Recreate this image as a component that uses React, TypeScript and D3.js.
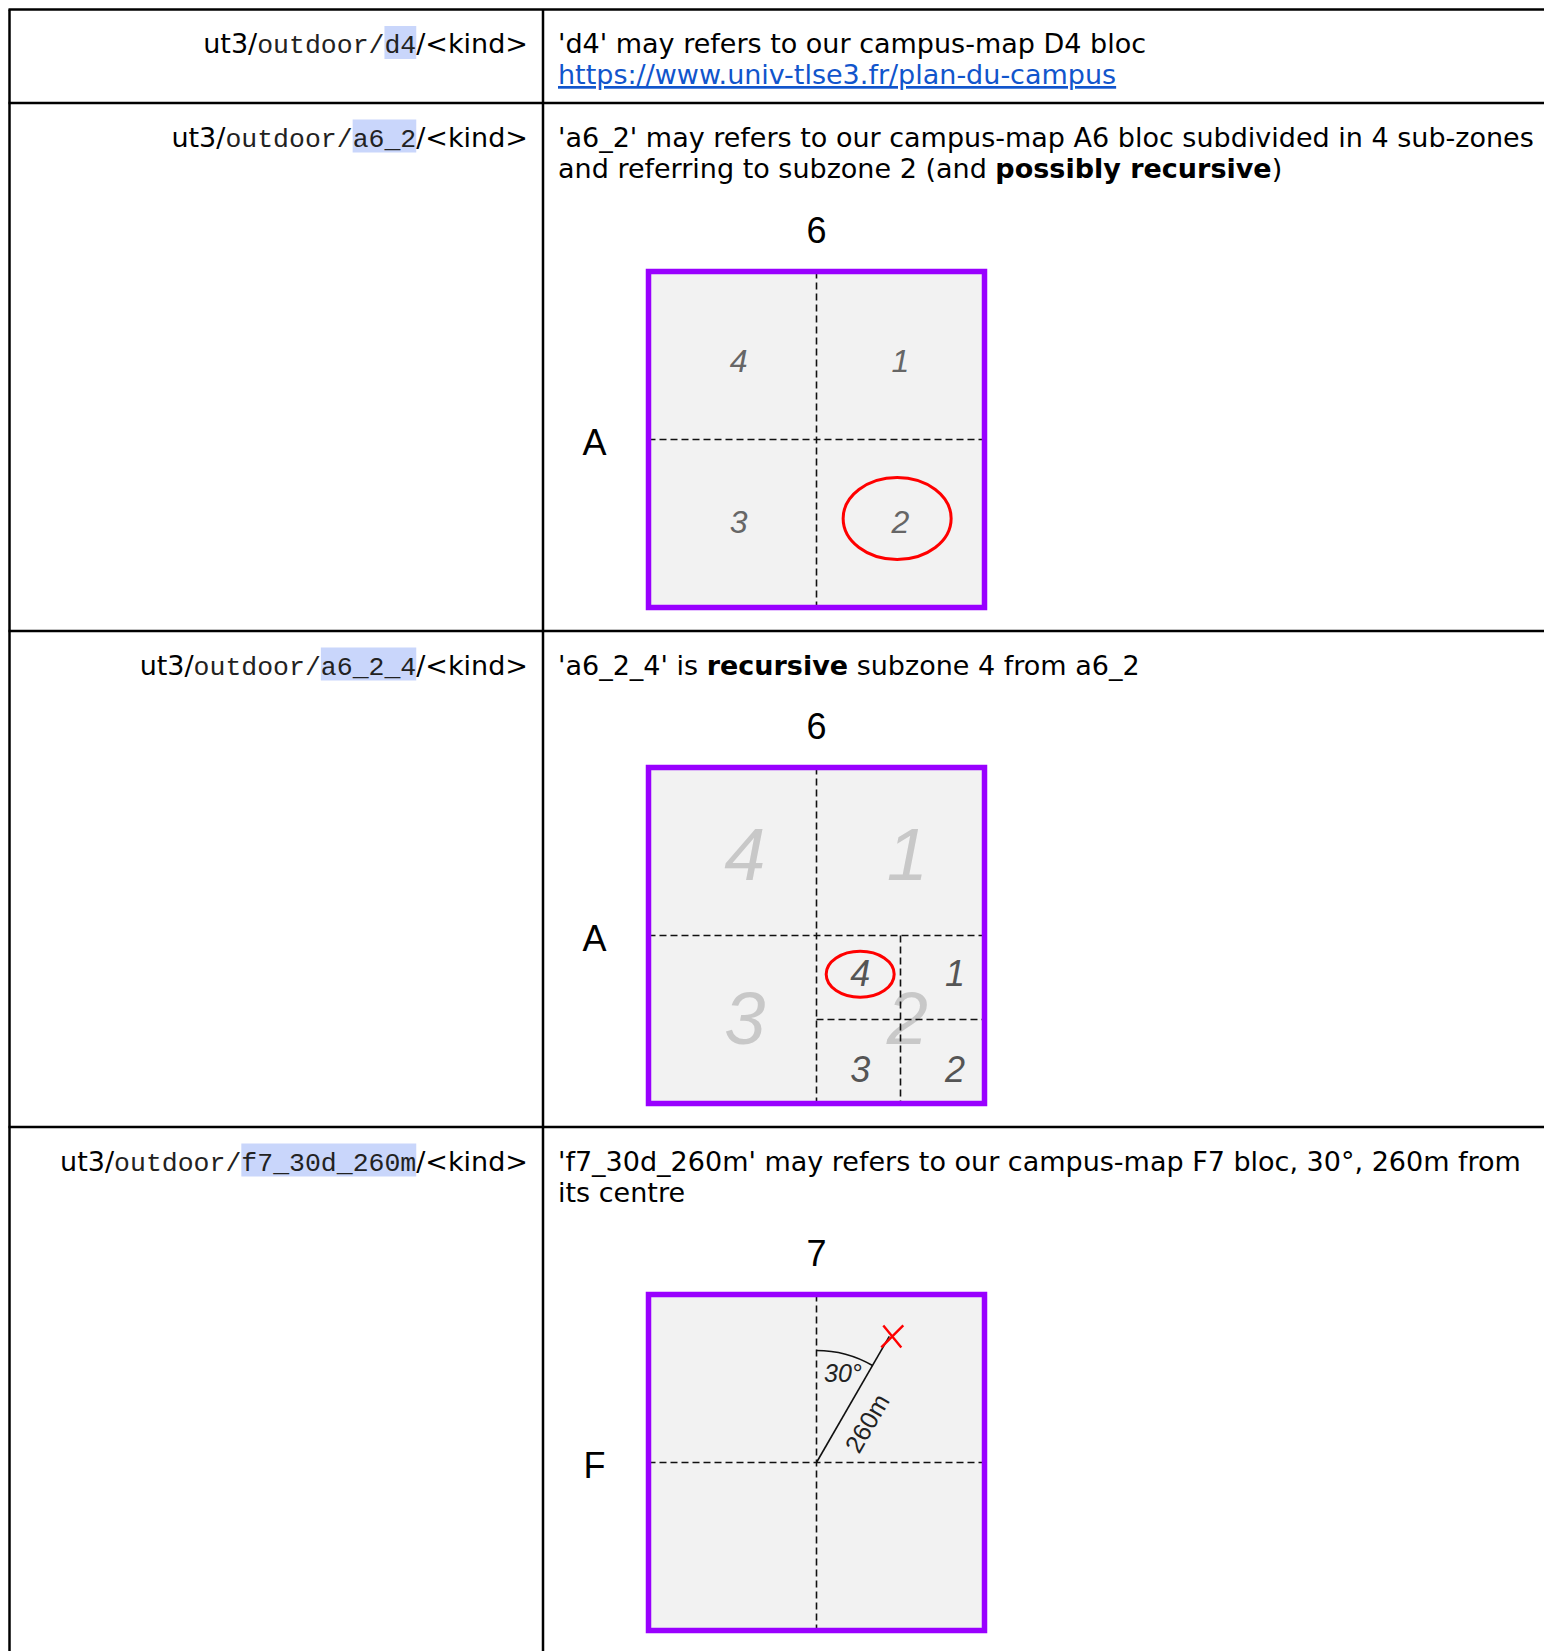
import React, { useEffect, useRef } from "react";
import * as d3 from "d3";

// table content
const pathKeys = ["d4", "a6_2", "a6_2_4", "f7_30d_260m"];

type Run = { t: string; bold?: boolean; link?: boolean };
const descriptionLines: Run[][][] = [
  [
    [{ t: "'d4' may refers to our campus-map D4 bloc" }],
    [{ t: "https://www.univ-tlse3.fr/plan-du-campus", link: true }],
  ],
  [
    [{ t: "'a6_2' may refers to our campus-map A6 bloc subdivided in 4 sub-zones" }],
    [{ t: "and referring to subzone 2 (and " }, { t: "possibly recursive", bold: true }, { t: ")" }],
  ],
  [[{ t: "'a6_2_4' is " }, { t: "recursive", bold: true }, { t: " subzone 4 from a6_2" }]],
  [
    [{ t: "'f7_30d_260m' may refers to our campus-map F7 bloc, 30°, 260m from" }],
    [{ t: "its centre" }],
  ],
];

// block diagrams
const colLabels = ["6", "6", "7"];
const rowLabels = ["A", "A", "F"];
const quadrantDigits = ["4", "1", "3", "2"]; // TL, TR, BL, BR
const selectedZone = "2";
const selectedSubZone = "4";
const bearingDeg = 30;
const distanceM = 260;
const blockMeters = 600;

const W = 1544;
const H = 1651;
const SANS = "'DejaVu Sans', Verdana, sans-serif";
const MONO = "'Liberation Mono', 'DejaVu Sans Mono', monospace";
const ARIAL = "'Liberation Sans', Arial, sans-serif";
const FS = 27;
const MONO_FS = 26.5;
const LINE_H = 31;

const tableLeft = 9.5;
const colX = 543;
const rowTops = [9.5, 103, 631, 1127];
const boxLeft = 648.5;
const boxSize = 336;
const boxTops = [271.5, 767.5, 1294.5];

const PURPLE = "#9900ff";
const FILL = "#f2f2f2";

// label centre inside a quadrant, as fractions of the quadrant (labels sit a bit off-centre)
const quadCenter = (i: number, cols = [0.5, 0.5], rows = [0.5, 0.5]): [number, number] => [
  ((i % 2) + cols[i % 2]) / 2,
  (Math.floor(i / 2) + rows[Math.floor(i / 2)]) / 2,
];

export default function App() {
  const ref = useRef<SVGSVGElement>(null);

  useEffect(() => {
    document.body.style.margin = "0";
    const svg = d3.select(ref.current);
    svg.selectAll("*").remove();
    svg.append("rect").attr("width", W).attr("height", H).attr("fill", "#fff");

    // grid lines
    const grid = svg.append("g").attr("stroke", "#000").attr("stroke-width", 2.5);
    rowTops.forEach((yy) => grid.append("line").attr("x1", tableLeft - 1).attr("x2", W).attr("y1", yy).attr("y2", yy));
    grid.append("line").attr("x1", tableLeft).attr("x2", tableLeft).attr("y1", rowTops[0]).attr("y2", H);
    grid.append("line").attr("x1", colX).attr("x2", colX).attr("y1", rowTops[0]).attr("y2", H);

    // left column: path patterns
    pathKeys.forEach((key, i) => {
      const base = rowTops[i] + 43.5;
      const g = svg.append("g");
      const txt = g.append("text").attr("x", 528).attr("y", base).attr("text-anchor", "end")
        .attr("font-family", SANS).attr("font-size", FS).attr("fill", "#000");
      txt.append("tspan").text("ut3/");
      txt.append("tspan").attr("font-family", MONO).attr("font-size", MONO_FS).attr("fill", "#222").text("outdoor/");
      txt.append("tspan").attr("font-family", MONO).attr("font-size", MONO_FS).attr("fill", "#222").text(key);
      txt.append("tspan").text("/<kind>");
      const node = txt.node() as SVGTextElement;
      const start = 12;
      const a = node.getExtentOfChar(start);
      const b = node.getExtentOfChar(start + key.length - 1);
      g.insert("rect", "text").attr("x", a.x).attr("y", base - 27)
        .attr("width", b.x + b.width - a.x).attr("height", 33).attr("fill", "#c9d6fb");
    });

    // right column: descriptions
    descriptionLines.forEach((lines, i) => {
      lines.forEach((runs, j) => {
        const txt = svg.append("text").attr("x", 558).attr("y", rowTops[i] + 43.5 + j * LINE_H)
          .attr("font-family", SANS).attr("font-size", FS).attr("fill", "#000");
        runs.forEach((r) => {
          const ts = txt.append("tspan").text(r.t);
          if (r.bold) ts.attr("font-weight", "bold");
          if (r.link) ts.attr("fill", "#1155cc").attr("text-decoration", "underline");
        });
      });
    });

    // diagrams
    const drawBlock = (k: number) => {
      const top = boxTops[k];
      const x = d3.scaleLinear().domain([0, 1]).range([boxLeft, boxLeft + boxSize]);
      const y = d3.scaleLinear().domain([0, 1]).range([top, top + boxSize]);
      const g = svg.append("g");

      g.append("rect").attr("x", x(0)).attr("y", y(0)).attr("width", boxSize).attr("height", boxSize).attr("fill", FILL);

      g.append("text").attr("x", x(0.5)).attr("y", y(0) - 41).attr("text-anchor", "middle")
        .attr("dominant-baseline", "central").attr("font-family", ARIAL).attr("font-size", 36).text(colLabels[k]);
      g.append("text").attr("x", x(0) - 54).attr("y", y(0.5) + 3).attr("text-anchor", "middle")
        .attr("dominant-baseline", "central").attr("font-family", ARIAL).attr("font-size", 36).text(rowLabels[k]);

      const digit = (fx: number, fy: number, s: string, size: number, color: string) =>
        g.append("text").attr("x", x(fx)).attr("y", y(fy)).attr("text-anchor", "middle")
          .attr("dominant-baseline", "central").attr("font-family", ARIAL).attr("font-style", "italic")
          .attr("font-size", size).attr("fill", color).text(s);

      const dashed = (x1: number, y1: number, x2: number, y2: number) =>
        g.append("line").attr("x1", x(x1)).attr("y1", y(y1)).attr("x2", x(x2)).attr("y2", y(y2))
          .attr("stroke", "#111").attr("stroke-width", 1.6).attr("stroke-dasharray", "7,4");

      const ellipse = (fx: number, fy: number, rx: number, ry: number) =>
        g.append("ellipse").attr("cx", x(fx)).attr("cy", y(fy)).attr("rx", rx).attr("ry", ry)
          .attr("fill", "none").attr("stroke", "#ff0000").attr("stroke-width", 3);

      if (k === 0) {
        dashed(0.5, 0, 0.5, 1);
        dashed(0, 0.5, 1, 0.5);
        quadrantDigits.forEach((d, i) => {
          const [fx, fy] = quadCenter(i, [0.537, 0.5], [0.53, 0.49]);
          digit(fx, fy, d, 32, "#666");
        });
        const [ex, ey] = quadCenter(quadrantDigits.indexOf(selectedZone));
        ellipse(ex - 0.01, ey - 0.015, 54, 41);
      } else if (k === 1) {
        quadrantDigits.forEach((d, i) => {
          const [fx, fy] = quadCenter(i, [0.573, 0.54], [0.52, 0.493]);
          digit(fx, fy, d, 74, "#c8c8c8");
        });
        dashed(0.5, 0, 0.5, 1);
        dashed(0, 0.5, 1, 0.5);
        const [qx, qy] = quadCenter(quadrantDigits.indexOf(selectedZone));
        const qx0 = qx - 0.25;
        const qy0 = qy - 0.25;
        dashed(qx0 + 0.25, qy0, qx0 + 0.25, qy0 + 0.5);
        dashed(qx0, qy0 + 0.25, qx0 + 0.5, qy0 + 0.25);
        const subCols = [0.52, 0.65];
        const subRows = [0.45, 0.59];
        quadrantDigits.forEach((d, i) => {
          const [fx, fy] = quadCenter(i, subCols, subRows);
          digit(qx0 + fx * 0.5, qy0 + fy * 0.5, d, 36, "#555");
        });
        const [sx, sy] = quadCenter(quadrantDigits.indexOf(selectedSubZone), subCols, subRows);
        ellipse(qx0 + sx * 0.5, qy0 + sy * 0.5 + 0.003, 34, 23);
      } else {
        dashed(0.5, 0, 0.5, 1);
        dashed(0, 0.5, 1, 0.5);
        const cx = x(0.5);
        const cy = y(0.5);
        const dist = d3.scaleLinear().domain([0, blockMeters]).range([0, boxSize]);
        const rad = (deg: number) => (deg * Math.PI) / 180;
        const polar = (deg: number, r: number): [number, number] => [cx + r * Math.sin(rad(deg)), cy - r * Math.cos(rad(deg))];
        const [px, py] = polar(bearingDeg, dist(distanceM));
        g.append("line").attr("x1", cx).attr("y1", cy).attr("x2", px).attr("y2", py)
          .attr("stroke", "#111").attr("stroke-width", 1.6);
        const arcR = 112;
        const p = d3.path();
        p.arc(cx, cy, arcR, -Math.PI / 2, -Math.PI / 2 + rad(bearingDeg));
        g.append("path").attr("d", p.toString()).attr("fill", "none").attr("stroke", "#111").attr("stroke-width", 1.6);
        // red cross at the target
        const [tx, ty] = [px + 3, py];
        const xs = 11;
        g.append("path").attr("d", `M${tx - xs},${ty + xs}L${tx + xs},${ty - xs}M${tx - xs + 2},${ty - xs}L${tx + xs - 2},${ty + xs}`)
          .attr("stroke", "#ff0000").attr("stroke-width", 2.4).attr("fill", "none");
        const [ax, ay] = polar(bearingDeg * 0.55, 93);
        g.append("text").attr("x", ax).attr("y", ay).attr("text-anchor", "middle").attr("dominant-baseline", "central")
          .attr("font-family", ARIAL).attr("font-style", "italic").attr("font-size", 25).attr("fill", "#222")
          .text(`${bearingDeg}°`);
        const [lx, ly] = polar(bearingDeg + 22, 64);
        g.append("text").attr("x", lx).attr("y", ly).attr("text-anchor", "middle").attr("dominant-baseline", "central")
          .attr("transform", `rotate(${bearingDeg - 90},${lx},${ly})`)
          .attr("font-family", ARIAL).attr("font-size", 25).attr("fill", "#222").text(`${distanceM}m`);
      }

      g.append("rect").attr("x", x(0)).attr("y", y(0)).attr("width", boxSize).attr("height", boxSize)
        .attr("fill", "none").attr("stroke", PURPLE).attr("stroke-width", 5.5);
    };
    [0, 1, 2].forEach(drawBlock);
  }, []);

  return <svg ref={ref} width={W} height={H} style={{ display: "block" }} />;
}
